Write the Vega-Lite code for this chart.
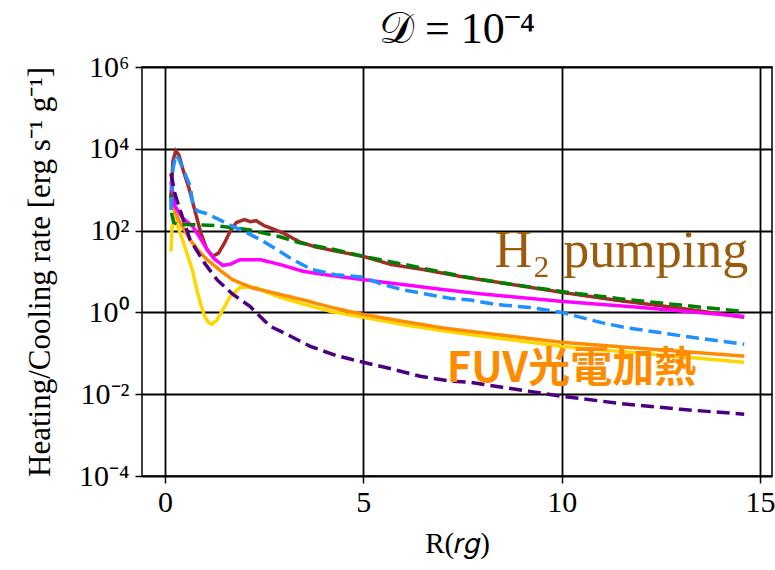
{
  "$schema": "https://vega.github.io/schema/vega-lite/v6.json",
  "width": 630,
  "height": 409,
  "autosize": "none",
  "padding": {"left": 142, "top": 67, "right": 3, "bottom": 94},
  "background": "white",
  "title": {"text": "𝒟 = 10⁻⁴", "fontSize": 44, "font": "Liberation Serif", "fontWeight": "normal", "color": "black", "offset": 0, "anchor": "middle"},
  "config": {
    "view": {"stroke": "black", "strokeWidth": 1.5},
    "axis": {"labelFont": "Liberation Serif", "titleFont": "Liberation Serif", "labelColor": "black", "titleColor": "black", "titleFontWeight": "normal", "domain": false, "tickColor": "black", "tickSize": 7, "tickWidth": 1.5, "gridColor": "black", "gridWidth": 1.8, "gridOpacity": 1}
  },
  "datasets": {
    "curves": [
      {"s": "brown", "x": 0.15, "y": 631}, {"s": "brown", "x": 0.2, "y": 5012}, {"s": "brown", "x": 0.27, "y": 8913}, {"s": "brown", "x": 0.35, "y": 7079}, {"s": "brown", "x": 0.45, "y": 3162}, {"s": "brown", "x": 0.6, "y": 1122}, {"s": "brown", "x": 0.75, "y": 316}, {"s": "brown", "x": 0.9, "y": 89.1}, {"s": "brown", "x": 1.05, "y": 35.5}, {"s": "brown", "x": 1.2, "y": 23.4}, {"s": "brown", "x": 1.35, "y": 28.2}, {"s": "brown", "x": 1.5, "y": 50.1}, {"s": "brown", "x": 1.65, "y": 100}, {"s": "brown", "x": 1.8, "y": 158}, {"s": "brown", "x": 2.0, "y": 186}, {"s": "brown", "x": 2.15, "y": 166}, {"s": "brown", "x": 2.3, "y": 174}, {"s": "brown", "x": 2.5, "y": 132}, {"s": "brown", "x": 2.7, "y": 112}, {"s": "brown", "x": 3.0, "y": 85.1}, {"s": "brown", "x": 3.4, "y": 52.5}, {"s": "brown", "x": 3.8, "y": 39.8}, {"s": "brown", "x": 4.3, "y": 31.6}, {"s": "brown", "x": 5.0, "y": 23.4}, {"s": "brown", "x": 5.7, "y": 14.8}, {"s": "brown", "x": 6.5, "y": 11.2}, {"s": "brown", "x": 7.5, "y": 7.41}, {"s": "brown", "x": 8.5, "y": 5.25}, {"s": "brown", "x": 10.0, "y": 3.09}, {"s": "brown", "x": 11.5, "y": 1.91}, {"s": "brown", "x": 13.0, "y": 1.26}, {"s": "brown", "x": 14.6, "y": 0.759},

      {"s": "gold", "x": 0.15, "y": 30.9}, {"s": "gold", "x": 0.18, "y": 126}, {"s": "gold", "x": 0.25, "y": 186}, {"s": "gold", "x": 0.38, "y": 89.1}, {"s": "gold", "x": 0.55, "y": 28.8}, {"s": "gold", "x": 0.7, "y": 10}, {"s": "gold", "x": 0.8, "y": 3.63}, {"s": "gold", "x": 0.9, "y": 1.58}, {"s": "gold", "x": 1.0, "y": 0.794}, {"s": "gold", "x": 1.1, "y": 0.562}, {"s": "gold", "x": 1.18, "y": 0.513}, {"s": "gold", "x": 1.3, "y": 0.631}, {"s": "gold", "x": 1.45, "y": 1.12}, {"s": "gold", "x": 1.64, "y": 2.45}, {"s": "gold", "x": 1.89, "y": 4.07}, {"s": "gold", "x": 2.1, "y": 4.17}, {"s": "gold", "x": 2.32, "y": 3.98}, {"s": "gold", "x": 2.6, "y": 3.02}, {"s": "gold", "x": 2.9, "y": 2.34}, {"s": "gold", "x": 3.5, "y": 1.58}, {"s": "gold", "x": 4.2, "y": 1.05}, {"s": "gold", "x": 5.0, "y": 0.759}, {"s": "gold", "x": 6.0, "y": 0.501}, {"s": "gold", "x": 7.0, "y": 0.355}, {"s": "gold", "x": 8.0, "y": 0.263}, {"s": "gold", "x": 10.0, "y": 0.148}, {"s": "gold", "x": 12.0, "y": 0.1}, {"s": "gold", "x": 14.6, "y": 0.0603},

      {"s": "orange", "x": 0.15, "y": 562}, {"s": "orange", "x": 0.25, "y": 282}, {"s": "orange", "x": 0.38, "y": 158}, {"s": "orange", "x": 0.63, "y": 60.3}, {"s": "orange", "x": 0.85, "y": 31.6}, {"s": "orange", "x": 1.06, "y": 19.5}, {"s": "orange", "x": 1.4, "y": 10.5}, {"s": "orange", "x": 1.7, "y": 6.31}, {"s": "orange", "x": 2.2, "y": 3.98}, {"s": "orange", "x": 2.9, "y": 2.75}, {"s": "orange", "x": 3.5, "y": 2.0}, {"s": "orange", "x": 4.2, "y": 1.32}, {"s": "orange", "x": 5.0, "y": 0.891}, {"s": "orange", "x": 6.0, "y": 0.603}, {"s": "orange", "x": 7.0, "y": 0.417}, {"s": "orange", "x": 8.0, "y": 0.316}, {"s": "orange", "x": 10.0, "y": 0.186}, {"s": "orange", "x": 12.0, "y": 0.132}, {"s": "orange", "x": 14.6, "y": 0.0851},

      {"s": "magenta", "x": 0.15, "y": 1585}, {"s": "magenta", "x": 0.25, "y": 398}, {"s": "magenta", "x": 0.45, "y": 200}, {"s": "magenta", "x": 0.7, "y": 126}, {"s": "magenta", "x": 0.9, "y": 63.1}, {"s": "magenta", "x": 1.06, "y": 34.7}, {"s": "magenta", "x": 1.25, "y": 20.0}, {"s": "magenta", "x": 1.46, "y": 14.1}, {"s": "magenta", "x": 1.65, "y": 15.1}, {"s": "magenta", "x": 1.89, "y": 19.5}, {"s": "magenta", "x": 2.4, "y": 19.5}, {"s": "magenta", "x": 2.9, "y": 14.8}, {"s": "magenta", "x": 3.5, "y": 10}, {"s": "magenta", "x": 4.2, "y": 7.94}, {"s": "magenta", "x": 5.0, "y": 6.31}, {"s": "magenta", "x": 6.0, "y": 4.79}, {"s": "magenta", "x": 7.0, "y": 3.63}, {"s": "magenta", "x": 8.0, "y": 2.82}, {"s": "magenta", "x": 10.0, "y": 1.86}, {"s": "magenta", "x": 12.0, "y": 1.32}, {"s": "magenta", "x": 14.6, "y": 0.794},

      {"s": "green", "x": 0.15, "y": 794}, {"s": "green", "x": 0.17, "y": 251}, {"s": "green", "x": 0.22, "y": 158}, {"s": "green", "x": 0.35, "y": 141}, {"s": "green", "x": 0.8, "y": 138}, {"s": "green", "x": 1.3, "y": 132}, {"s": "green", "x": 2.1, "y": 105}, {"s": "green", "x": 2.9, "y": 70.8}, {"s": "green", "x": 3.4, "y": 50.1}, {"s": "green", "x": 4.2, "y": 35.5}, {"s": "green", "x": 5.0, "y": 23.4}, {"s": "green", "x": 6.0, "y": 15.1}, {"s": "green", "x": 7.5, "y": 7.59}, {"s": "green", "x": 8.5, "y": 5.25}, {"s": "green", "x": 10.0, "y": 3.24}, {"s": "green", "x": 11.5, "y": 2.14}, {"s": "green", "x": 13.0, "y": 1.51}, {"s": "green", "x": 14.6, "y": 1.05},

      {"s": "blue", "x": 0.15, "y": 316}, {"s": "blue", "x": 0.2, "y": 3162}, {"s": "blue", "x": 0.27, "y": 7079}, {"s": "blue", "x": 0.35, "y": 5623}, {"s": "blue", "x": 0.5, "y": 2512}, {"s": "blue", "x": 0.63, "y": 1259}, {"s": "blue", "x": 0.72, "y": 355}, {"s": "blue", "x": 0.85, "y": 295}, {"s": "blue", "x": 1.0, "y": 269}, {"s": "blue", "x": 1.3, "y": 200}, {"s": "blue", "x": 1.6, "y": 141}, {"s": "blue", "x": 2.0, "y": 95.5}, {"s": "blue", "x": 2.4, "y": 60.3}, {"s": "blue", "x": 2.8, "y": 35.5}, {"s": "blue", "x": 3.2, "y": 20.0}, {"s": "blue", "x": 3.7, "y": 11.2}, {"s": "blue", "x": 4.3, "y": 8.32}, {"s": "blue", "x": 5.0, "y": 7.24}, {"s": "blue", "x": 5.5, "y": 4.79}, {"s": "blue", "x": 6.0, "y": 3.55}, {"s": "blue", "x": 7.2, "y": 2.19}, {"s": "blue", "x": 7.7, "y": 2.0}, {"s": "blue", "x": 8.3, "y": 1.58}, {"s": "blue", "x": 9.2, "y": 1.32}, {"s": "blue", "x": 10.0, "y": 1.0}, {"s": "blue", "x": 11.0, "y": 0.562}, {"s": "blue", "x": 11.6, "y": 0.427}, {"s": "blue", "x": 13.0, "y": 0.269}, {"s": "blue", "x": 14.6, "y": 0.166},

      {"s": "indigo", "x": 0.15, "y": 2512}, {"s": "indigo", "x": 0.25, "y": 794}, {"s": "indigo", "x": 0.38, "y": 316}, {"s": "indigo", "x": 0.63, "y": 60.3}, {"s": "indigo", "x": 1.0, "y": 15.8}, {"s": "indigo", "x": 1.31, "y": 6.31}, {"s": "indigo", "x": 1.7, "y": 2.82}, {"s": "indigo", "x": 2.14, "y": 1.41}, {"s": "indigo", "x": 2.65, "y": 0.457}, {"s": "indigo", "x": 3.0, "y": 0.316}, {"s": "indigo", "x": 3.66, "y": 0.148}, {"s": "indigo", "x": 4.3, "y": 0.0891}, {"s": "indigo", "x": 5.0, "y": 0.0603}, {"s": "indigo", "x": 5.7, "y": 0.0417}, {"s": "indigo", "x": 6.43, "y": 0.0275}, {"s": "indigo", "x": 7.2, "y": 0.0209}, {"s": "indigo", "x": 7.7, "y": 0.0195}, {"s": "indigo", "x": 8.5, "y": 0.0148}, {"s": "indigo", "x": 10.0, "y": 0.00891}, {"s": "indigo", "x": 11.5, "y": 0.00589}, {"s": "indigo", "x": 13.0, "y": 0.00427}, {"s": "indigo", "x": 14.6, "y": 0.00324}
    ],
    "labels": [
      {"t": "H₂ pumping", "x": 14.7, "y": 31, "kind": "h2"},
      {"t": "FUV光電加熱", "x": 7.1, "y": 0.041, "kind": "fuv"}
    ]
  },
  "layer": [
    {
      "data": {"name": "curves"},
      "mark": {"type": "line", "strokeWidth": 3.5, "clip": true},
      "encoding": {
        "x": {"field": "x", "type": "quantitative", "scale": {"domain": [-0.58, 15.3], "nice": false, "zero": false},
              "axis": {"values": [0, 5, 10, 15], "title": "R(𝑟𝑔)", "labelFontSize": 30, "titleFontSize": 29, "labelPadding": 4, "titlePadding": 12}},
        "y": {"field": "y", "type": "quantitative", "scale": {"type": "log", "domain": [0.0001, 1000000], "nice": false},
              "axis": {"values": [0.0001, 0.01, 1, 100, 10000, 1000000], "labelExpr": "datum.value == 1000000 ? '10⁶' : datum.value == 10000 ? '10⁴' : datum.value == 100 ? '10²' : datum.value == 1 ? '10⁰' : datum.value == 0.01 ? '10⁻²' : '10⁻⁴'", "title": "Heating/Cooling rate [erg s⁻¹ g⁻¹]", "labelFontSize": 30, "titleFontSize": 31, "labelPadding": 6, "titlePadding": 22}},
        "color": {"field": "s", "type": "nominal", "legend": null,
                  "scale": {"domain": ["brown", "gold", "orange", "magenta", "green", "blue", "indigo"], "range": ["#A52A2A", "#FFD700", "#FF8C00", "#FF00FF", "#008000", "#1E90FF", "#4B0082"]}},
        "strokeDash": {"field": "s", "type": "nominal", "legend": null,
                  "scale": {"domain": ["brown", "gold", "orange", "magenta", "green", "blue", "indigo"], "range": [[1, 0], [1, 0], [1, 0], [1, 0], [13, 6], [13, 6], [13, 6]]}},
        "order": {"field": "x", "type": "quantitative"}
      }
    },
    {
      "data": {"name": "labels"},
      "transform": [{"filter": "datum.kind == 'h2'"}],
      "mark": {"type": "text", "font": "Liberation Serif", "fontSize": 52, "color": "#9A5B0C", "align": "right", "baseline": "middle"},
      "encoding": {
        "x": {"field": "x", "type": "quantitative"},
        "y": {"field": "y", "type": "quantitative"},
        "text": {"field": "t"}
      }
    },
    {
      "data": {"name": "labels"},
      "transform": [{"filter": "datum.kind == 'fuv'"}],
      "mark": {"type": "text", "font": "Noto Sans CJK JP", "fontSize": 42, "fontWeight": "bold", "color": "#FF8C00", "align": "left", "baseline": "middle"},
      "encoding": {
        "x": {"field": "x", "type": "quantitative"},
        "y": {"field": "y", "type": "quantitative"},
        "text": {"field": "t"}
      }
    }
  ]
}
